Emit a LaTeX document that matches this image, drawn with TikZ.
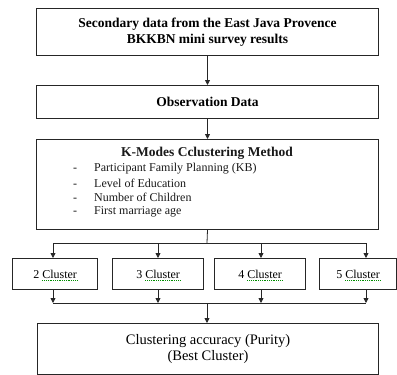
\documentclass[tikz,border=0pt]{standalone}
\usepackage{fontspec}
\setmainfont{Liberation Serif}
\usetikzlibrary{arrows.meta}
\begin{document}
\begin{tikzpicture}[x=1pt,y=-1pt,
  box/.style={draw=black!85, line width=1pt, inner sep=0pt, anchor=north west, align=center},
  cbox/.style={box, line width=1.3pt, minimum height=31pt, font=\fontsize{12}{14}\selectfont},
  txt/.style={inner sep=0pt, text=black!90},
  arr/.style={-{Triangle[length=5pt,width=5pt]}, line width=0.8pt, draw=black!85},
  ln/.style={line width=0.8pt, draw=black!85},
  squig/.style={densely dotted, line width=0.8pt, draw=green!55!black}]
\useasboundingbox (0,0) rectangle (397,375);
% top boxes
\node[box, minimum width=342pt, minimum height=47pt, font=\fontsize{13.5}{16}\selectfont\bfseries] (src) at (36,8)
  {Secondary data from the East Java Provence\\BKKBN mini survey results};
\node[box, minimum width=342pt, minimum height=33pt, font=\fontsize{13.5}{16}\selectfont\bfseries] (obs) at (36,85)
  {Observation Data};
\node[box, minimum width=342pt, minimum height=90pt] (km) at (36,139) {};
\node[txt, font=\fontsize{13.5}{16}\selectfont\bfseries] (kmt) at (207,153) {K-Modes Cclustering Method};
\node[txt, anchor=west, font=\fontsize{12}{14}\selectfont] (i1) at (73,169) {-\hspace{17pt}Participant Family Planning (KB)};
\node[txt, anchor=west, font=\fontsize{12}{14}\selectfont] (i2) at (73,183) {-\hspace{17pt}Level of Education};
\node[txt, anchor=west, font=\fontsize{12}{14}\selectfont] (i3) at (73,197) {-\hspace{17pt}Number of Children};
\node[txt, anchor=west, font=\fontsize{12}{14}\selectfont] (i4) at (73,212) {-\hspace{17pt}First marriage age};
% cluster boxes
\node[cbox, minimum width=85pt] (c2) at (12,258) {2 Cluster};
\node[cbox, minimum width=91pt] (c3) at (112,258) {3 Cluster};
\node[cbox, minimum width=91pt] (c4) at (214,258) {4 Cluster};
\node[cbox, minimum width=77pt] (c5) at (319,258) {5 Cluster};
\foreach \c in {c2,c3,c4,c5}
  \draw[squig] ([shift={(-12.8,6.5)}]\c.center) -- ([shift={(21.8,6.5)}]\c.center);
% result box
\node[box, minimum width=341pt, minimum height=51pt, font=\fontsize{14.5}{16}\selectfont] (res) at (37,323)
  {Clustering accuracy (Purity)\\(Best Cluster)};
% connectors
\draw[arr] (src.south) -- (obs.north);
\draw[arr] (obs.south) -- (km.north);
\coordinate (t1) at (53,243);
\coordinate (t2) at (158,243);
\coordinate (t3) at (261,243);
\coordinate (t4) at (366,243);
\coordinate (tm) at (207,243);
\draw[ln] (km.south) -- (tm);
\draw[ln] (t1) -- (t4);
\draw[arr] (t1) -- (t1 |- c2.north);
\draw[arr] (t2) -- (t2 |- c3.north);
\draw[arr] (t3) -- (t3 |- c4.north);
\draw[arr] (t4) -- (t4 |- c5.north);
\coordinate (b1) at (53,303);
\coordinate (b2) at (158,303);
\coordinate (b3) at (261,303);
\coordinate (b4) at (366,303);
\coordinate (bm) at (207,303);
\draw[ln] (b1) -- (b4);
\draw[arr] (b1 |- c2.south) -- (b1);
\draw[arr] (b2 |- c3.south) -- (b2);
\draw[arr] (b3 |- c4.south) -- (b3);
\draw[arr] (b4 |- c5.south) -- (b4);
\draw[arr] (bm) -- (res.north -| bm);
\end{tikzpicture}
\end{document}
